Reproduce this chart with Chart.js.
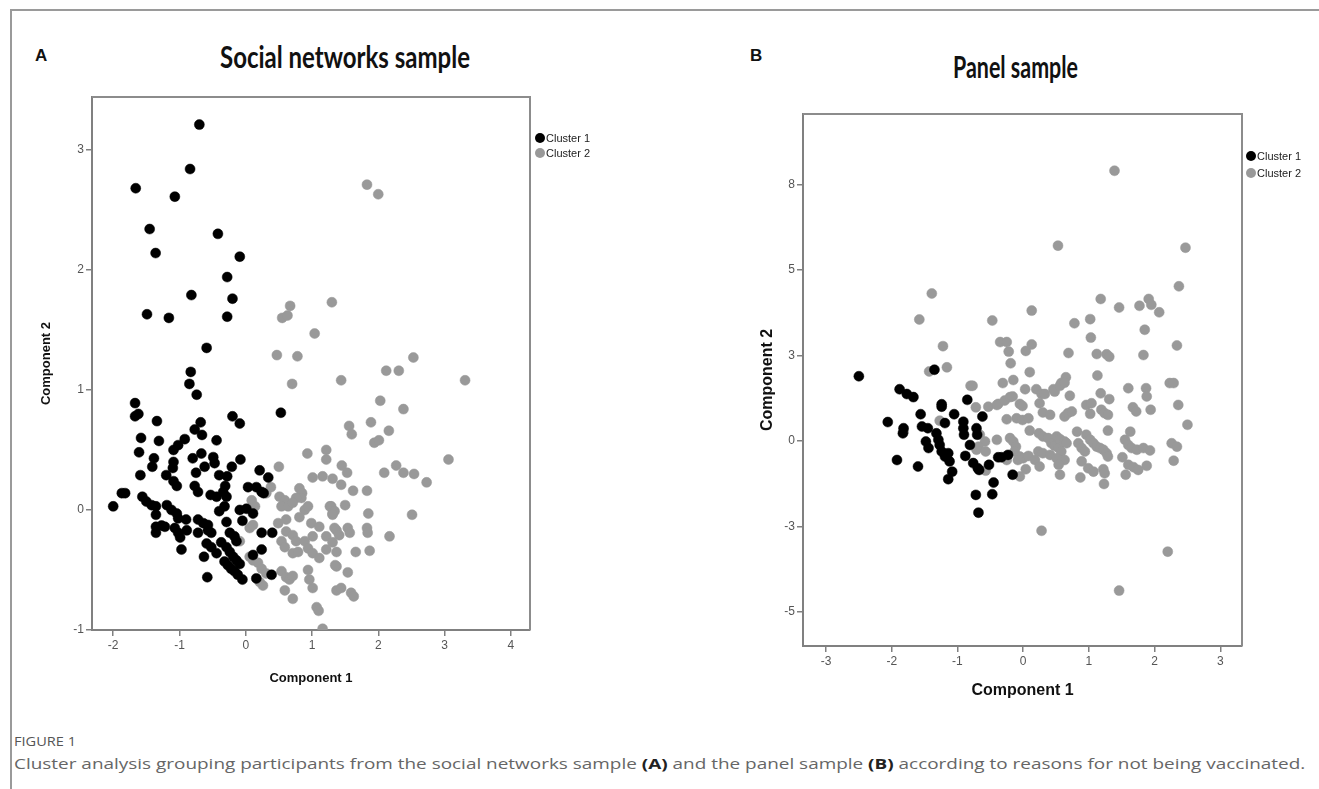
<!DOCTYPE html>
<html>
<head>
<meta charset="utf-8">
<script src="https://cdn.jsdelivr.net/npm/chart.js@4.4.1/dist/chart.umd.min.js"></script>
<style>
  html, body { margin:0; padding:0; background:#fff; }
  body { width:1319px; height:789px; position:relative; overflow:hidden; font-family:Arial, "Liberation Sans", sans-serif; }
  .frameTop { position:absolute; left:10px; top:9px; width:1309px; height:2px; background:#9a9a9a; }
  .frameLeft { position:absolute; left:10px; top:9px; width:2px; height:780px; background:#9a9a9a; }
  .panel { position:absolute; font-weight:bold; font-size:17px; color:#111; }
  .title { position:absolute; white-space:nowrap; font-family:Lato, "Open Sans", sans-serif; font-weight:bold; font-size:30px; color:#111; transform-origin:0 50%; }
  .cap { position:absolute; white-space:nowrap; font-family:"Open Sans", Lato, sans-serif; color:#666; transform-origin:0 50%; }
  .cap b { color:#222; }
  .wrap { position:absolute; }
</style>
</head>
<body>
<div class="frameTop"></div>
<div class="frameLeft"></div>

<div class="panel" style="left:35px; top:46px;">A</div>
<div class="panel" style="left:750px; top:46px;">B</div>
<div class="title" id="titleA" data-left="220" data-w="250" style="top:38px;">Social networks sample</div>
<div class="title" id="titleB" data-left="953" data-w="125" style="top:48px;">Panel sample</div>

<div class="wrap" style="left:0; top:0; width:660px; height:720px;"><canvas id="chartA"></canvas></div>
<div class="wrap" style="left:700px; top:0; width:619px; height:730px;"><canvas id="chartB"></canvas></div>

<div class="cap" id="figLabel" data-left="14" data-w="62" style="top:733px; font-size:12px; color:#555;">FIGURE 1</div>
<div class="cap" id="caption" data-left="14" data-w="1291" style="top:753px; font-size:15px;">Cluster analysis grouping participants from the social networks sample <b>(A)</b> and the panel sample <b>(B)</b> according to reasons for not being vaccinated.</div>

<script>
// ---- DATA ----
const seriesNames = ['Cluster 1', 'Cluster 2'];
const seriesColors = ['#000000', '#999999'];

// Panel A: social networks sample
const socialC1 = [
  [-0.70,3.21],[-0.84,2.84],[-1.66,2.68],[-1.07,2.61],[-1.45,2.34],[-0.42,2.30],[-1.36,2.14],[-0.09,2.11],
  [-0.28,1.94],[-0.82,1.79],[-0.20,1.76],[-1.49,1.63],[-1.16,1.60],[-0.28,1.61],[-0.59,1.35],
  [-0.83,1.15],[-0.85,1.05],[-0.74,0.96],[-1.67,0.89],[-1.67,0.78],[-1.62,0.80],[-1.34,0.74],[-0.20,0.78],
  [-0.09,0.72],[0.53,0.81],[-1.58,0.60],[-1.31,0.575],[-0.68,0.73],[-0.77,0.67],[-0.66,0.625],[-0.92,0.59],
  [-1.02,0.54],[-1.09,0.50],[-0.44,0.58],[-1.61,0.48],[-1.385,0.43],[-1.41,0.36],[-1.09,0.40],[-1.10,0.35],
  [-0.80,0.43],[-0.67,0.47],[-0.49,0.44],[-0.47,0.39],[-0.62,0.36],[-0.75,0.31],[-0.21,0.36],[-0.08,0.42],
  [-1.59,0.29],[-1.20,0.29],[-0.40,0.29],[-0.28,0.28],[0.21,0.33],[0.34,0.27],[-1.09,0.24],[-1.04,0.20],
  [-0.77,0.20],[-0.72,0.15],[-0.31,0.20],[-0.34,0.15],[-0.29,0.11],[-0.53,0.125],[-0.44,0.11],[0.035,0.19],
  [0.16,0.19],[0.24,0.15],[0.27,0.14],[-1.87,0.14],[-1.82,0.14],[-2.00,0.03],[-1.56,0.11],[-1.50,0.07],
  [-1.42,0.04],[-1.355,0.03],[-1.355,-0.04],[-1.19,0.04],[-1.12,0.0],[-1.04,-0.03],[-1.02,-0.07],[-0.90,-0.08],
  [-0.72,-0.08],[-0.64,-0.11],[-0.57,-0.125],[-0.40,-0.01],[-0.32,0.03],[-0.29,-0.10],[-0.09,0.0],[0.01,0.01],
  [0.11,-0.03],[-0.05,-0.09],[-1.355,-0.14],[-1.27,-0.13],[-1.22,-0.14],[-1.355,-0.19],[-1.07,-0.15],[-1.02,-0.19],
  [-0.99,-0.23],[-0.89,-0.17],[-0.72,-0.19],[-0.57,-0.17],[-0.52,-0.19],[-0.24,-0.19],[-0.17,-0.22],[-0.14,-0.26],
  [0.24,-0.19],[0.40,-0.19],[-0.97,-0.33],[-0.59,-0.28],[-0.52,-0.31],[-0.44,-0.36],[-0.63,-0.39],[-0.37,-0.27],
  [-0.29,-0.31],[-0.24,-0.35],[-0.32,-0.43],[-0.27,-0.46],[-0.22,-0.49],[-0.17,-0.51],[-0.12,-0.54],[-0.05,-0.58],
  [-0.19,-0.39],[-0.14,-0.42],[-0.09,-0.45],[-0.58,-0.56],[0.24,-0.33],[0.11,-0.375],[0.16,-0.57],[0.39,-0.54]
];
const socialC2 = [
  [0.67,1.70],[0.55,1.60],[0.63,1.62],[1.30,1.73],[1.04,1.47],[0.47,1.29],[0.78,1.28],
  [0.70,1.05],[0.93,0.47],[1.215,0.50],[1.215,0.42],[0.50,0.36],[1.01,0.27],[1.16,0.28],[1.31,0.26],[0.81,0.18],
  [0.85,0.14],[0.84,0.10],[0.76,0.10],[0.38,0.19],[0.51,0.11],[0.59,0.08],[0.54,0.03],[0.64,0.03],[0.71,0.06],
  [0.89,0.0],[0.94,0.03],[1.27,0.03],[1.31,-0.03],[0.09,0.08],[0.14,0.03],[0.31,0.14],[0.49,-0.11],[0.61,-0.08],
  [0.81,-0.06],[0.99,-0.11],[1.11,-0.14],[1.01,-0.22],[0.61,-0.18],[0.71,-0.21],[1.215,-0.22],[1.37,-0.17],
  [0.06,-0.15],[0.11,-0.125],[-0.09,-0.26],[0.54,-0.26],[0.76,-0.26],[0.89,-0.26],[0.59,-0.31],[0.71,-0.36],
  [0.79,-0.35],[0.94,-0.32],[1.01,-0.36],[1.11,-0.40],[1.215,-0.33],[1.37,-0.35],[0.06,-0.39],[0.11,-0.42],
  [0.185,-0.44],[0.24,-0.49],[0.31,-0.53],[0.21,-0.60],[0.26,-0.63],[0.54,-0.51],[0.61,-0.56],[0.66,-0.58],
  [0.71,-0.55],[0.94,-0.50],[1.01,-0.65],[0.96,-0.58],[0.59,-0.67],[0.71,-0.74],[1.07,-0.81],[1.10,-0.84],
  [1.16,-0.99],[1.37,-0.47],[1.37,-0.67],
  [1.83,2.71],[2.00,2.63],[2.53,1.27],
  [2.12,1.16],[2.31,1.16],[1.44,1.08],[3.31,1.08],[2.03,0.91],[2.38,0.84],[1.89,0.73],[1.56,0.70],[1.60,0.63],
  [2.16,0.66],[1.94,0.56],[2.01,0.58],[3.06,0.42],[1.45,0.37],[1.53,0.31],[2.27,0.37],[2.09,0.31],[2.38,0.31],
  [2.54,0.30],[2.73,0.23],[1.44,0.21],[1.62,0.16],[1.83,0.16],[1.29,0.03],[1.34,-0.01],[1.31,-0.04],[1.50,0.04],
  [1.85,-0.03],[2.51,-0.04],[1.34,-0.15],[1.41,-0.21],[1.54,-0.15],[1.57,-0.19],[1.83,-0.15],[1.84,-0.19],
  [1.31,-0.27],[2.17,-0.22],[1.66,-0.35],[1.87,-0.34],[1.35,-0.46],[1.54,-0.52],[1.44,-0.65],[1.59,-0.69],[1.63,-0.72]
];

// Panel B: panel sample
const panelC1 = [
  [-2.50,1.89],[-1.35,2.08],[-1.88,1.51],[-1.77,1.37],[-1.67,1.28],[-2.06,0.55],[-1.92,-0.56],[-1.82,0.37],
  [-1.83,0.22],[-1.56,0.78],[-1.54,0.42],[-1.45,0.37],[-1.24,1.07],[-1.24,1.00],[-1.05,0.78],[-1.19,0.52],
  [-0.85,1.20],[-1.48,-0.02],[-1.44,-0.21],[-1.32,0.22],[-1.29,0.03],[-1.27,-0.12],[-1.24,-0.31],[-1.19,-0.46],
  [-1.14,-0.36],[-1.12,-0.60],[-1.60,-0.75],[-1.14,-1.12],[-1.08,-0.90],[-0.91,0.56],[-0.91,0.37],[-0.90,0.18],
  [-0.81,-0.12],[-0.88,-0.44],[-0.76,-0.65],[-0.69,-0.80],[-0.67,-0.85],[-0.71,0.37],[-0.70,0.18],[-0.62,0.71],
  [-0.72,-1.58],[-0.68,-2.10],[-0.47,-1.56],[-0.45,-1.22],[-0.52,-0.70],[-0.38,-0.48],[-0.33,-0.48],[-0.23,-0.41],
  [-0.16,-0.99]
];
const panelC2 = [
  [-1.39,4.31],[-1.58,3.55],[-0.47,3.52],[-1.22,2.77],[-1.16,2.15],[-1.43,2.03],[-0.80,1.61],[-0.35,2.89],
  [-0.77,1.61],[-0.72,0.98],[-0.53,1.00],[-0.38,1.08],[-1.27,0.59],[-1.82,0.27],[-0.66,0.18],[-0.58,-0.02],
  [-0.68,-0.17],[-0.71,-0.26],[-0.57,-0.31],[-0.57,-0.87],[-0.40,0.03],
  [1.39,7.90],[0.53,5.71],[2.47,5.65],[2.37,4.52],[1.18,4.15],[1.46,3.90],[1.77,3.95],[1.91,4.15],[1.95,3.98],
  [2.07,3.76],[0.13,3.81],[0.78,3.44],[1.02,3.56],[1.85,3.25],[1.03,3.02],[-0.25,2.89],[-0.22,2.61],[0.04,2.63],
  [0.13,2.82],[0.69,2.57],[1.12,2.54],[1.27,2.53],[1.31,2.46],[1.83,2.51],[2.34,2.79],[-0.19,2.27],[0.10,2.01],
  [1.13,1.91],[-0.31,1.69],[-0.15,1.78],[0.65,1.86],[0.58,1.69],[2.23,1.69],[2.29,1.69],[0.03,1.51],[0.20,1.51],
  [0.46,1.51],[1.60,1.54],[1.87,1.54],
  [0.28,1.37],[0.33,1.37],[0.48,1.44],[0.56,1.61],[0.63,1.70],[0.71,1.32],[1.18,1.39],[1.31,1.22],[1.88,1.30],
  [2.36,1.05],[1.94,0.91],[1.67,0.98],[1.72,0.86],[2.50,0.47],[-0.40,1.05],[-0.28,1.18],[-0.20,1.28],[-0.16,1.30],
  [-0.05,1.08],[-0.01,1.02],[0.25,1.10],[0.30,0.83],[0.41,0.76],[0.63,0.71],[0.68,0.81],[0.74,0.86],[0.96,1.05],
  [1.04,1.10],[1.02,0.79],[1.19,0.91],[1.24,0.81],[1.29,0.76],[-0.25,0.63],[-0.10,0.66],[-0.01,0.61],[0.08,0.66],
  [0.10,0.30],[-0.20,0.08],[-0.15,-0.02],[-0.11,-0.17],[-0.13,-0.31],[-0.05,-0.46],[0.0,-0.51],[0.08,-0.44],
  [-0.25,-0.56],[-0.08,-0.56],[0.04,-0.83],[-0.05,-1.04],[0.24,0.22],[0.30,0.13],[0.38,0.08],[0.43,-0.07],
  [0.48,-0.15],[0.54,-0.21],[0.58,-0.31],[0.63,-0.56],[0.51,0.13],[0.56,0.05],[0.63,-0.02],[0.66,-0.07],
  [0.23,-0.31],[0.30,-0.36],[0.41,-0.41],[0.51,-0.51],[0.54,-0.70],[0.56,-0.99],[0.18,-0.56],[0.25,-0.75],
  [0.82,0.27],[0.96,0.18],[1.02,0.03],[1.07,-0.07],[1.12,-0.17],[1.17,-0.21],[1.22,-0.26],[1.27,-0.36],
  [1.29,-0.46],[0.84,-0.07],[0.89,-0.21],[0.94,-0.31],[0.89,-0.60],[0.99,-0.80],[1.07,-0.90],[1.22,-0.83],
  [1.24,-0.95],[0.87,-1.07],[1.23,-1.26],[1.29,0.30],[1.63,0.27],[1.55,0.03],[1.60,-0.12],[1.65,-0.21],
  [1.73,-0.26],[1.83,-0.21],[1.93,-0.28],[1.51,-0.48],[1.60,-0.70],[1.68,-0.77],[1.75,-0.85],[1.88,-0.73],
  [1.56,-0.99],[2.26,-0.07],[2.34,-0.17],[2.29,-0.58],[0.28,-2.63],[2.20,-3.24],[1.46,-4.38]
];

// axis ticks
const socialXTicks = [-2, -1, 0, 1, 2, 3, 4];
const socialYTicks = [-1, 0, 1, 2, 3];
const panelXTicks = [-3, -2, -1, 0, 1, 2, 3];
const panelYTicks = [-5, -2.5, 0, 2.5, 5, 7.5];
const panelYLabels = ['-5', '-3', '0', '3', '5', '8'];

const FONT = "Arial, 'Liberation Sans', sans-serif";

// -------- plugins --------
// top/right frame of the plot box
const boxFrame = {
  id: 'boxFrame',
  afterDraw(chart){
    const {ctx, chartArea: a} = chart;
    ctx.save();
    ctx.strokeStyle = '#8c8c8c';
    ctx.lineWidth = 2;
    ctx.beginPath();
    ctx.moveTo(a.left, a.top); ctx.lineTo(a.right, a.top); ctx.lineTo(a.right, a.bottom);
    ctx.stroke();
    ctx.restore();
  }
};

// SPSS-style legend hanging off the top right of the box
const sideLegend = {
  id: 'sideLegend',
  afterDraw(chart, args, opts){
    const {ctx, chartArea: a} = chart;
    ctx.save();
    ctx.font = `${opts.size || 11}px ${FONT}`;
    ctx.textBaseline = 'middle';
    chart.data.datasets.forEach((ds, i) => {
      const cx = a.right + opts.dx, cy = a.top + opts.dy + i * opts.gap;
      ctx.fillStyle = ds.backgroundColor;
      ctx.beginPath(); ctx.arc(cx, cy, 5, 0, Math.PI * 2); ctx.fill();
      ctx.fillStyle = '#222';
      ctx.fillText(ds.label, cx + 6, cy + 0.5);
    });
    ctx.restore();
  }
};

function toPts(arr){ return arr.map(p => ({ x: p[0], y: p[1] })); }

function datasets(c1, c2){
  return [c1, c2].map((d, i) => ({
    label: seriesNames[i],
    data: toPts(d),
    backgroundColor: seriesColors[i],
    borderColor: seriesColors[i],
    pointRadius: 5,
    pointBorderWidth: 0.5,
    pointHoverRadius: 5
  }));
}

function axis(opts){
  return {
    type: 'linear',
    min: opts.min, max: opts.max,
    afterFit: s => { if (opts.width) s.width = opts.width; if (opts.height) s.height = opts.height; },
    afterBuildTicks: s => { s.ticks = opts.ticks.map(v => ({ value: v })); },
    border: { display: true, color: '#808080', width: 2 },
    grid: { drawOnChartArea: false, drawTicks: true, tickLength: 6, color: '#808080', lineWidth: 1.5 },
    ticks: {
      font: { family: FONT, size: 12 }, color: '#555', padding: 2,
      maxRotation: 0, autoSkip: false,
      callback: opts.labels ? (v) => opts.labels[opts.ticks.indexOf(v)] : (v) => String(v)
    },
    title: {
      display: true, text: opts.title, color: '#111',
      font: { family: FONT, size: opts.titleSize, weight: 'bold' },
      padding: opts.titlePad
    }
  };
}

function makeChart(id, c1, c2, cfg){
  return new Chart(document.getElementById(id), {
    type: 'scatter',
    data: { datasets: datasets(c1, c2) },
    options: {
      responsive: true, maintainAspectRatio: false, animation: false,
      layout: { padding: cfg.padding },
      plugins: { legend: { display: false }, tooltip: { enabled: false }, sideLegend: cfg.legend },
      scales: { x: axis(cfg.x), y: axis(cfg.y) }
    },
    plugins: [boxFrame, sideLegend]
  });
}

makeChart('chartA', socialC1, socialC2, {
  padding: { left: 30, top: 97, right: 130, bottom: 20 },
  legend: { dx: 10, dy: 41, gap: 15 },
  x: { min: -2.32, max: 4.29, ticks: socialXTicks, height: 70, title: 'Component 1', titleSize: 13, titlePad: { top: 0, bottom: 14 } },
  y: { min: -1, max: 3.44, ticks: socialYTicks, width: 62, title: 'Component 2', titleSize: 13, titlePad: { top: 9, bottom: 0 } }
});

makeChart('chartB', panelC1, panelC2, {
  padding: { left: 50, top: 114, right: 77, bottom: 20 },
  legend: { dx: 9, dy: 42, gap: 17 },
  x: { min: -3.35, max: 3.33, ticks: panelXTicks, height: 64, title: 'Component 1', titleSize: 16, titlePad: { top: 0, bottom: 10 } },
  y: { min: -6.0, max: 9.56, ticks: panelYTicks, labels: panelYLabels, width: 53, title: 'Component 2', titleSize: 16, titlePad: { top: 8, bottom: 0 } }
});

// squeeze html text to the width it has in the figure
document.querySelectorAll('[data-w]').forEach(el => {
  const w = el.getBoundingClientRect().width;
  el.style.left = el.dataset.left + 'px';
  el.style.transform = `scaleX(${(+el.dataset.w / w).toFixed(3)})`;
});
</script>
</body>
</html>
